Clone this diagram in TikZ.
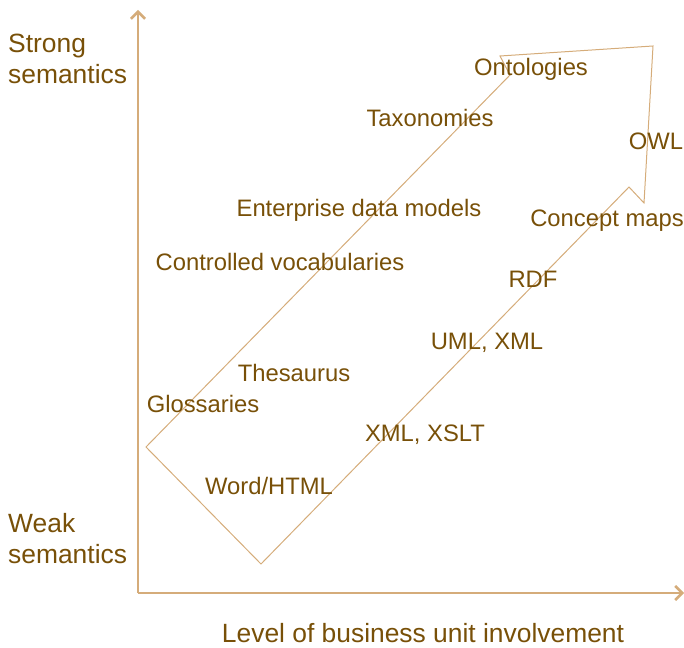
\documentclass[tikz,border=0pt]{standalone}
\usepackage{fontspec}
\setmainfont{Liberation Sans}
\usepackage{xcolor}
\usepackage{tikz}
\usetikzlibrary{positioning,arrows.meta}
\definecolor{axiscolor}{RGB}{213, 172, 122}
\definecolor{labelcolor}{RGB}{120, 80, 8}
\tikzset{
    axis line/.style={line width=2.6pt, axiscolor, -{Straight Barb[length=7pt,width=14pt,line width=2.6pt]}},
    band outline/.style={line width=1pt, draw=axiscolor, line join=miter},
    tool label/.style={text=labelcolor, font=\fontsize{23.8}{28}\selectfont, inner sep=0pt},
    axis label/.style={tool label, font=\fontsize{26.4}{31}\selectfont},
    side label/.style={axis label, anchor=west, align=left}
}
\begin{document}
\begin{tikzpicture}[x=1pt, y=-1pt]
\useasboundingbox (0,0) rectangle (684,647);
% axes
\coordinate (origin) at (138,593);
\coordinate (ytop) at (138,10);
\coordinate (xend) at (684,593);
\draw[axis line] (origin) -- (ytop);
\draw[axis line] (origin) -- (xend);
% the rising band
\draw[band outline] (146,447) -- (261,564) -- (629,187) -- (644,203) -- (653,46) -- (500,56) -- (510,75) -- cycle;
% axis labels
\node[side label] (strong) at (8,59) {Strong\\semantics};
\node[side label] (weak) at (8,539) {Weak\\semantics};
\node[axis label] (xlabel) at (423,633) {Level of business unit involvement};
% items along the band
\node[tool label] (onto) at (531,69) {Ontologies};
\node[tool label] (taxo) at (430,118) {Taxonomies};
\node[tool label] (owl) at (656,141) {OWL};
\node[tool label] (edm) at (359,210) {Enterprise data models};
\node[tool label] (cmaps) at (607,221) {Concept maps};
\node[tool label] (cvocab) at (280,262) {Controlled vocabularies};
\node[tool label] (rdf) at (533,279) {RDF};
\node[tool label] (uml) at (487,343) {UML, XML};
\node[tool label] (thes) at (294,373) {Thesaurus};
\node[tool label] (gloss) at (203,404) {Glossaries};
\node[tool label] (xslt) at (425,435) {XML, XSLT};
\node[tool label] (html) at (269,486) {Word/HTML};
\end{tikzpicture}
\end{document}
